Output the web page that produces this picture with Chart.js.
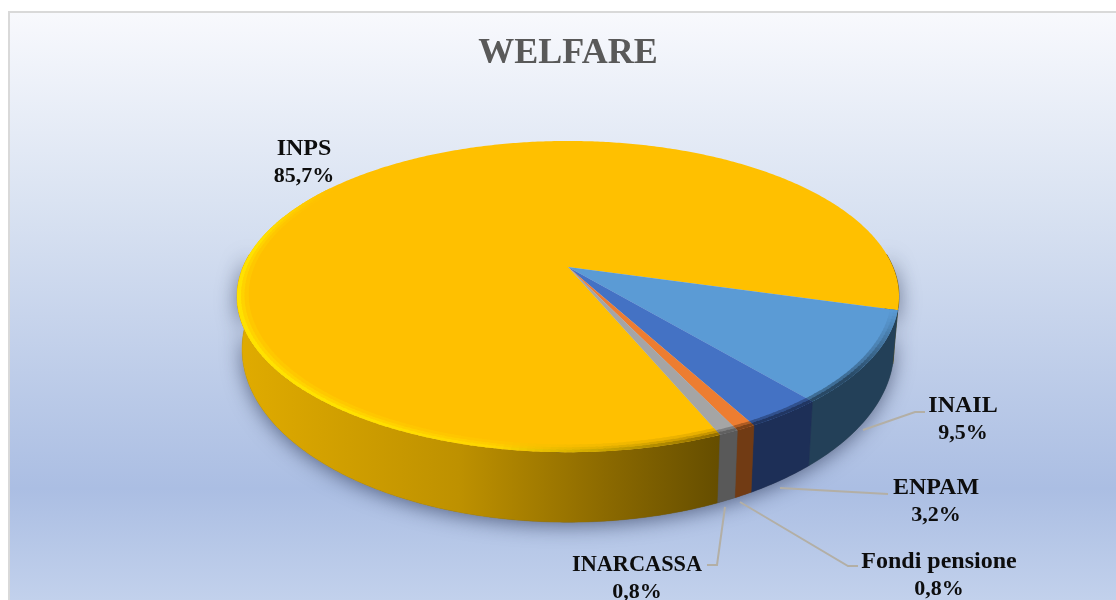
<!DOCTYPE html>
<html>
<head>
<meta charset="utf-8">
<style>
  html, body { margin: 0; padding: 0; background: #fff; }
  canvas { display: block; }
</style>
<script src="https://cdn.jsdelivr.net/npm/chart.js@4/dist/chart.umd.js"></script>
</head>
<body>
<canvas id="chart" width="1116" height="600"></canvas>
<script>
const categories = ['INPS', 'INAIL', 'ENPAM', 'Fondi pensione', 'INARCASSA'];
const shares = [85.7, 9.5, 3.2, 0.8, 0.8];
const shareLabels = ['85,7%', '9,5%', '3,2%', '0,8%', '0,8%'];
const sliceColors = ['#FFC000', '#5B9BD5', '#4472C4', '#ED7D31', '#A5A5A5'];

// projection of the pie disc: apex, half axes and perspective factor
const persp = 0.19;
const topDisc = { x: 568, y: 267, a: 325, b: 150 };
const baseDisc = { x: 568, y: 316, a: 320, b: 167 };
const RAD = Math.PI / 180;

const project = (disc, angle, r) => {
    const u = r * Math.cos(angle);
    const v = r * Math.sin(angle);
    const d = 1 - persp * v;
    return [disc.x + disc.a * u / d, disc.y + disc.b * v / d];
};

const rgb = hex => [1, 3, 5].map(i => parseInt(hex.substr(i, 2), 16));
const mix = (c1, c2, t) => {
    const a = rgb(c1), b = rgb(c2);
    const out = a.map((v, i) => Math.round(v + (b[i] - v) * t));
    return '#' + out.map(v => v.toString(16).padStart(2, '0')).join('');
};

const arcPath = (ctx, disc, start, end, r, reverse) => {
    const steps = Math.max(2, Math.ceil((end - start) / 0.01));
    for (let i = 0; i <= steps; i++) {
        const t = reverse ? 1 - i / steps : i / steps;
        const p = project(disc, start + (end - start) * t, r);
        ctx.lineTo(p[0], p[1]);
    }
};

const wallColors = ['', '#234058', '#1D2F57', '#713B14', '#595959'];

const sideFill = (ctx, i) => {
    if (i === 0) {
        const g = ctx.createLinearGradient(240, 0, 725, 0);
        g.addColorStop(0, '#E0AB00');
        g.addColorStop(0.45, '#BE9100');
        g.addColorStop(0.75, '#8C6A00');
        g.addColorStop(1, '#634C00');
        return g;
    }
    return wallColors[i];
};

// colour and strength of the bevel along the rim
const bevelColor = (i, angle) => {
    const deg = (angle / RAD + 360) % 360;
    if (deg > 215) return { c: sliceColors[i], f: 0 };
    if (i !== 0) return { c: wallColors[i], f: Math.max(0, Math.min(1, (deg - 15) / 25)) };
    if (deg < 30) return { c: '#8A6800', f: 0 };
    if (deg < 100) return { c: mix('#8A6800', '#FFD800', Math.max(0, (deg - 68) / 32)), f: 1 };
    if (deg < 125) return { c: mix('#FFD800', '#FFE600', (deg - 100) / 25), f: 1 };
    if (deg < 190) return { c: '#FFE600', f: 1 };
    return { c: '#FFE600', f: (215 - deg) / 25 };
};

const pie3d = {
    id: 'pie3d',
    beforeDraw(chart) {
        const ctx = chart.ctx;
        ctx.save();
        const bg = ctx.createLinearGradient(0, 13, 0, 600);
        bg.addColorStop(0, '#F8F9FD');
        bg.addColorStop(0.32, '#DAE3F2');
        bg.addColorStop(0.81, '#ABBEE3');
        bg.addColorStop(1, '#C2D1EC');
        ctx.fillStyle = bg;
        ctx.fillRect(8, 12, 1108, 588);
        ctx.fillStyle = '#D9D9D9';
        ctx.fillRect(8, 11, 1108, 2);
        ctx.fillRect(8, 11, 2, 589);
        ctx.restore();
    },
    beforeDatasetsDraw(chart) {
        const ctx = chart.ctx;
        const arcs = chart.getDatasetMeta(0).data;
        ctx.save();

        // shadow under the body
        ctx.save();
        ctx.shadowColor = 'rgba(30,40,70,0.6)';
        ctx.shadowBlur = 20;
        ctx.shadowOffsetY = 3;
        ctx.fillStyle = '#555';
        ctx.beginPath();
        arcPath(ctx, baseDisc, -5 * RAD, 185 * RAD, 1);
        arcPath(ctx, topDisc, -5 * RAD, 185 * RAD, 1, true);
        ctx.closePath();
        ctx.fill();
        ctx.restore();

        // side walls, front part of the rim only
        arcs.forEach((arc, i) => {
            [0, 360].forEach(turn => {
                const s = Math.max(arc.startAngle, (turn - 5) * RAD);
                const e = Math.min(arc.endAngle, (turn + 185) * RAD);
                if (e <= s) return;
                ctx.beginPath();
                arcPath(ctx, topDisc, s, e, 1);
                arcPath(ctx, baseDisc, s, e, 1, true);
                ctx.closePath();
                ctx.fillStyle = sideFill(ctx, i);
                ctx.strokeStyle = ctx.fillStyle;
                ctx.lineWidth = 0.5;
                ctx.fill();
                ctx.stroke();
            });
        });

        // top faces
        arcs.forEach((arc, i) => {
            ctx.beginPath();
            ctx.moveTo(topDisc.x, topDisc.y);
            arcPath(ctx, topDisc, arc.startAngle, arc.endAngle, 1);
            ctx.closePath();
            ctx.fillStyle = sliceColors[i];
            ctx.fill();
        });

        // bevel strips, inner ones first
        [[0.966, 0.978, 0.2], [0.978, 0.988, 0.5], [0.988, 1, 0.9]].forEach(strip => {
            arcs.forEach((arc, i) => {
                const step = 0.02;
                if (i !== 0 && strip[2] < 0.4) return;
                for (let a = arc.startAngle; a < arc.endAngle; a += step) {
                    const b = bevelColor(i, a);
                    if (b.f === 0) continue;
                    const e = Math.min(a + step * 1.3, arc.endAngle);
                    const p1 = project(topDisc, a, strip[0]);
                    const p2 = project(topDisc, a, strip[1]);
                    const p3 = project(topDisc, e, strip[1]);
                    const p4 = project(topDisc, e, strip[0]);
                    ctx.beginPath();
                    ctx.moveTo(p1[0], p1[1]);
                    ctx.lineTo(p2[0], p2[1]);
                    ctx.lineTo(p3[0], p3[1]);
                    ctx.lineTo(p4[0], p4[1]);
                    ctx.closePath();
                    ctx.fillStyle = mix(sliceColors[i], b.c, strip[2] * b.f);
                    ctx.fill();
                }
            });
        });
        ctx.restore();
        return false;
    },
    afterDraw(chart) {
        const ctx = chart.ctx;
        ctx.save();
        // leader lines
        ctx.strokeStyle = '#B3AFA5';
        ctx.lineWidth = 2;
        [
            [[863, 430], [915, 412], [925, 412]],
            [[780, 488], [888, 494]],
            [[740, 502], [848, 566], [858, 566]],
            [[725, 507], [717, 565], [707, 565]]
        ].forEach(line => {
            ctx.beginPath();
            line.forEach((p, i) => i ? ctx.lineTo(p[0], p[1]) : ctx.moveTo(p[0], p[1]));
            ctx.stroke();
        });
        // labels
        const places = [[304, 149], [963, 406], [936, 488], [939, 562], [637, 565]];
        ctx.fillStyle = '#0D0D0D';
        ctx.textAlign = 'center';
        ctx.textBaseline = 'middle';
        categories.forEach((name, i) => {
            ctx.font = 'bold 24px "Liberation Serif"';
            if (i === 4) ctx.fillText(name, places[i][0], places[i][1], 130);
            else ctx.fillText(name, places[i][0], places[i][1]);
            ctx.font = 'bold 22px "Liberation Serif"';
            ctx.fillText(shareLabels[i], places[i][0], places[i][1] + 27);
        });
        ctx.restore();
    }
};

new Chart(document.getElementById('chart'), {
    type: 'pie',
    data: {
        labels: categories,
        datasets: [{
            data: shares,
            backgroundColor: sliceColors,
            borderWidth: 0
        }]
    },
    options: {
        responsive: false,
        animation: false,
        rotation: 157.3,
        layout: { padding: { left: 20 } },
        plugins: {
            legend: { display: false },
            tooltip: { enabled: false },
            title: {
                display: true,
                text: 'WELFARE',
                color: '#595959',
                font: { family: '"Liberation Serif"', size: 36, weight: 'bold' },
                padding: { top: 32, bottom: 10 }
            }
        }
    },
    plugins: [pie3d]
});
</script>
</body>
</html>
